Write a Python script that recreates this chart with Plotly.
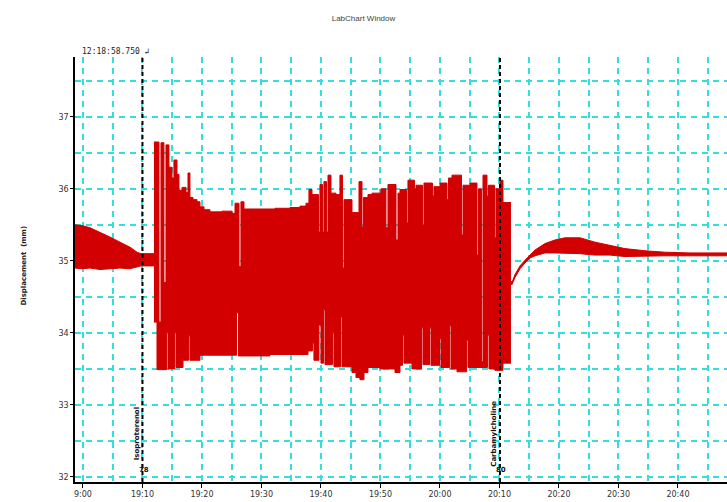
import plotly.graph_objects as go

# ---------------- data (time in minutes after 19:00, displacement in mm) -------------
tick_minutes = [0, 10, 20, 30, 40, 50, 60, 70, 80, 90, 100]
tick_labels = ["9:00", "19:10", "19:20", "19:30", "19:40", "19:50",
               "20:00", "20:10", "20:20", "20:30", "20:40"]
minor_minutes = [5, 15, 25, 35, 45, 55, 65, 75, 85, 95, 105]
y_ticks = [32, 33, 34, 35, 36, 37]
y_minor = [32.5, 33.5, 34.5, 35.5, 36.5, 37.5]

# baseline before drug
pre_t = [-1.34, -0.17, 1.18, 2.86, 4.54, 6.22, 7.90, 9.08, 9.75, 11.93]
pre_upper = [35.50, 35.49, 35.46, 35.40, 35.33, 35.26, 35.19, 35.12, 35.10, 35.10]
pre_lower = [34.90, 34.89, 34.90, 34.88, 34.89, 34.90, 34.89, 34.91, 34.93, 34.93]

# contraction burst: upper envelope (step)
burst_up_t = [11.93, 12.77, 13.11, 13.61, 13.95, 14.45, 14.96, 15.29, 15.80, 16.13,
              16.64, 17.31, 17.65, 17.98, 18.49, 19.16, 19.66, 20.34, 21.34, 23.36,
              25.04, 25.55, 26.22, 26.55, 27.06, 29.75, 32.27, 34.79, 36.47, 37.48,
              37.98, 38.49, 39.58, 39.83, 40.25, 40.50, 40.92, 41.18, 41.68, 42.52,
              43.19, 43.61, 43.87, 45.21, 46.39, 46.89, 47.14, 47.90, 48.57, 50.08,
              50.92, 51.26, 52.61, 52.94, 53.28, 54.37, 54.62, 55.71, 55.97, 57.06,
              57.31, 58.74, 58.99, 60.00, 61.18, 61.43, 62.02, 63.61, 63.87, 65.04,
              66.22, 66.47, 66.97, 67.23, 67.90, 68.15, 69.16, 69.41, 70.08, 70.59,
              71.93]
burst_upper = [36.65, 34.15, 36.64, 34.70, 36.61, 36.30, 36.15, 36.40, 36.20, 35.98,
               36.02, 35.95, 36.22, 35.88, 35.85, 35.82, 35.75, 35.71, 35.68, 35.69,
               35.66, 35.80, 34.92, 35.82, 35.72, 35.72, 35.73, 35.74, 35.76, 35.80,
               35.99, 35.92, 35.40, 36.06, 35.40, 36.10, 35.40, 36.19, 35.94, 35.92,
               36.19, 34.90, 35.85, 35.67, 36.10, 35.47, 35.88, 35.92, 35.94, 36.00,
               35.46, 36.06, 35.29, 35.94, 35.99, 35.53, 36.12, 36.00, 36.05, 35.50,
               36.08, 35.90, 36.03, 36.08, 35.85, 36.15, 36.19, 35.36, 36.05, 36.08,
               35.08, 36.00, 33.60, 36.19, 35.90, 36.05, 35.32, 36.00, 36.12, 35.81,
               35.81]

# contraction burst: lower envelope (step)
burst_lo_t = [11.93, 12.44, 14.03, 14.29, 15.38, 15.63, 16.81, 17.73, 17.98, 19.66,
              25.80, 26.13, 31.43, 36.47, 37.82, 38.57, 38.82, 39.66, 40.00, 40.42,
              40.67, 41.93, 42.18, 43.28, 43.53, 45.21, 45.88, 46.55, 47.23, 47.90,
              49.92, 51.60, 52.44, 53.28, 53.70, 53.95, 55.29, 56.89, 57.14, 58.24,
              58.49, 59.92, 60.17, 61.60, 61.85, 62.86, 64.45, 64.71, 67.98, 68.24,
              69.24, 70.59, 71.93]
burst_lower = [34.15, 33.49, 34.01, 33.50, 34.01, 33.52, 33.62, 33.96, 33.62, 33.69,
               34.28, 33.68, 33.70, 33.70, 33.75, 33.86, 33.62, 34.11, 33.58, 34.32,
               33.56, 34.01, 33.53, 34.22, 33.53, 33.45, 33.38, 33.35, 33.45, 33.52,
               33.50, 33.50, 33.45, 33.55, 33.97, 33.58, 33.50, 34.07, 33.56, 34.07,
               33.55, 33.92, 33.52, 34.10, 33.50, 33.46, 33.90, 33.52, 33.97, 33.50,
               33.48, 33.58, 33.58]

# washout / recovery
post_t = [71.93, 72.10, 72.61, 73.45, 74.29, 75.13, 75.97, 77.65, 79.33, 81.01,
          83.53, 86.05, 88.57, 91.09, 94.45, 97.82, 102.02, 108.24]
post_upper = [34.72, 34.70, 34.81, 34.93, 35.01, 35.08, 35.15, 35.24, 35.29, 35.32,
              35.32, 35.26, 35.21, 35.17, 35.14, 35.12, 35.11, 35.11]
post_lower = [34.68, 34.67, 34.77, 34.89, 34.97, 35.04, 35.07, 35.11, 35.11, 35.11,
              35.10, 35.08, 35.08, 35.06, 35.07, 35.07, 35.07, 35.07]

markers_t = [10.0, 70.08]
marker_names = ["Isoproterenol", "Carbamylcholine"]
marker_ids = ["78", "80"]

# ---------------- figure ----------------
RED = "#D20000"
CYAN = "#35DEDE"

fig = go.Figure()

def band(tl, yl, tu, yu, shape):
    fig.add_trace(go.Scatter(x=tl, y=yl, mode="lines", line=dict(color=RED, width=1, shape=shape),
                             hoverinfo="skip", showlegend=False))
    fig.add_trace(go.Scatter(x=tu, y=yu, mode="lines", line=dict(color=RED, width=1, shape=shape),
                             fill="tonexty", fillcolor=RED, hoverinfo="skip", showlegend=False))

band(pre_t, pre_lower, pre_t, pre_upper, "linear")
band(burst_lo_t, burst_lower, burst_up_t, burst_upper, "hv")
band(post_t, post_lower, post_t, post_upper, "linear")

for t in markers_t:
    fig.add_shape(type="line", xref="x", yref="paper", x0=t, x1=t, y0=0, y1=1.0,
                  line=dict(color="black", width=2, dash="4px,3px"))

for t, name, mid in zip(markers_t, marker_names, marker_ids):
    fig.add_annotation(x=t - 1.0, y=32.6, xref="x", yref="y", text="<b>" + name + "</b>", textangle=-90,
                       showarrow=False, font=dict(size=7, color="#111", family="DejaVu Sans"))
    fig.add_annotation(x=t + 0.2, y=32.1, xref="x", yref="y", text="<b>" + mid + "</b>",
                       showarrow=False, font=dict(size=7, color="#111", family="DejaVu Sans"))

fig.add_annotation(x=0.008, y=1.012, xref="paper", yref="paper", text="12:18:58.750 ↲",
                   xanchor="left", yanchor="middle", showarrow=False,
                   font=dict(size=8, color="#222", family="DejaVu Sans Mono"))

fig.add_annotation(x=-0.087, y=0.51, xref="paper", yref="paper", text="<b>Displacement  (mm)</b>",
                   textangle=-90, showarrow=False,
                   font=dict(size=7, color="#222", family="DejaVu Sans"))

grid = dict(showgrid=True, gridcolor=CYAN, griddash="6px,5px", gridwidth=1.5)

fig.update_layout(
    width=727, height=502,
    margin=dict(l=75, r=0, t=57, b=20),
    paper_bgcolor="white", plot_bgcolor="white",
    title=dict(text="LabChart Window", x=0.5, xref="container", xanchor="center",
               y=1 - 18 / 502, yref="container", yanchor="middle",
               font=dict(size=8, color="#444", family="Liberation Sans")),
    xaxis=dict(range=[-1.34, 108.24], tickmode="array", tickvals=tick_minutes, ticktext=tick_labels,
               zeroline=False, showline=True, linecolor="black", linewidth=1.5,
               ticks="outside", ticklen=4, tickcolor="black",
               tickfont=dict(size=8, color="#333", family="DejaVu Sans"),
               minor=dict(tickvals=minor_minutes, ticklen=0, **grid), **grid),
    yaxis=dict(range=[31.93, 37.83], tickmode="array", tickvals=y_ticks,
               ticktext=[str(v) for v in y_ticks],
               zeroline=False, showline=True, linecolor="black", linewidth=1.5,
               ticks="outside", ticklen=3, tickcolor="black",
               tickfont=dict(size=8, color="#333", family="DejaVu Sans"),
               minor=dict(tickvals=y_minor, ticklen=0, **grid), **grid),
)

fig.write_html("out.html", config={"displayModeBar": False},
               post_script="document.body.style.margin='0';document.body.style.overflow='hidden';")
